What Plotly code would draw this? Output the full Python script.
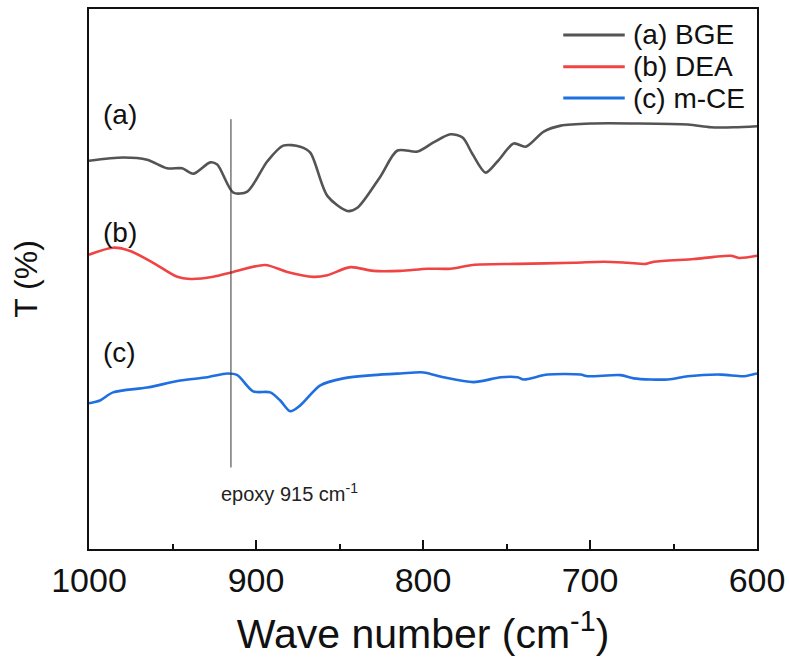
import plotly.graph_objects as go

# ---- data ----
wn_a = [1000, 979.6, 965.2, 953.2, 944.2, 937.6, 927.4, 923.2, 913.6, 905.2, 893.2, 883.7,
        873.5, 867.5, 857.3, 845.3, 839.3, 825.5, 815.3, 803.3, 793.7, 783.5, 776.3, 770.3,
        762.5, 755.3, 745.7, 738.5, 727.7, 717.5, 697.8, 673.8, 641.4, 627.6, 613.8, 600]
t_a = [71.9, 72.5, 72.1, 70.5, 70.5, 69.5, 71.6, 71.2, 66.0, 66.2, 71.8, 74.7,
       74.5, 73.4, 65.4, 62.6, 63.2, 69.0, 73.8, 73.6, 75.3, 76.8, 76.2, 73.1,
       69.7, 71.8, 75.1, 74.5, 77.3, 78.4, 78.8, 78.8, 78.6, 78.1, 78.1, 78.3]

wn_b = [1000, 985.6, 975.4, 961.6, 947.2, 939.4, 925.6, 913.6, 894.5, 881.3, 865.7, 857.3,
        843.5, 829.7, 813.5, 797.3, 783.5, 770.3, 743.3, 709.8, 691.8, 677.4, 666.6, 661.8,
        637.8, 625.8, 615.6, 610.8, 600]
t_b = [54.5, 55.8, 55.2, 53.0, 50.4, 50.0, 50.4, 51.3, 52.6, 51.3, 50.4, 50.7,
       52.2, 51.5, 51.5, 51.9, 51.9, 52.6, 52.8, 53.0, 53.2, 53.0, 52.8, 53.2,
       53.7, 54.1, 54.3, 53.9, 54.3]

wn_c = [1000, 993.4, 985.6, 965.2, 945.4, 929.2, 917.2, 911.2, 901.7, 891.5, 885.5, 879.5,
        873.5, 861.5, 847.7, 829.7, 813.5, 799.7, 787.7, 769.7, 753.5, 743.3, 739.7, 725.4,
        705.6, 701.4, 681.6, 673.8, 653.4, 641.4, 621.6, 607.8, 600]
t_c = [27.0, 27.5, 29.0, 29.9, 31.2, 31.8, 32.5, 32.2, 29.2, 29.0, 27.5, 25.5,
       26.6, 30.3, 31.6, 32.2, 32.5, 32.7, 31.8, 30.9, 31.8, 31.8, 31.4, 32.3,
       32.3, 32.0, 32.2, 31.6, 31.4, 32.0, 32.3, 32.0, 32.5]

names = ["(a) BGE", "(b) DEA", "(c) m-CE"]
colors = ["#545454", "#f04343", "#1f6fe0"]
x_ticks = [1000, 900, 800, 700, 600]
epoxy_wn = 915

FONT = "Liberation Sans, Arial, sans-serif"

fig = go.Figure()
for wn, t, nm, c in zip([wn_a, wn_b, wn_c], [t_a, t_b, t_c], names, colors):
    fig.add_trace(go.Scatter(x=wn, y=t, mode="lines", name=nm, showlegend=False,
                             line=dict(color=c, width=2.6, shape="spline", smoothing=0.8)))

# legend drawn as keys (line sample + text), placed in paper coordinates
leg_rows = [0.952, 0.893, 0.835]
for nm, c, yr in zip(names, colors, leg_rows):
    fig.add_shape(type="line", xref="paper", yref="paper", x0=0.710, x1=0.802, y0=yr, y1=yr,
                  line=dict(color=c, width=3))
    fig.add_annotation(xref="paper", yref="paper", x=0.811, y=yr, xanchor="left", yanchor="middle",
                       text=nm, showarrow=False, font=dict(family=FONT, size=28, color="#111"))

fig.add_shape(type="line", x0=epoxy_wn, x1=epoxy_wn, y0=15.1, y1=79.6,
              line=dict(color="#333333", width=1))

fig.add_annotation(x=epoxy_wn - 35, y=10.4, text="epoxy 915 cm<sup>-1</sup>", showarrow=False,
                   font=dict(family=FONT, size=20, color="#222"))
for lbl, yv in zip(["(a)", "(b)", "(c)"], [80.5, 58.7, 36.4]):
    fig.add_annotation(x=981.5, y=yv, text=lbl, showarrow=False,
                       font=dict(family=FONT, size=28, color="#111"))

fig.update_layout(
    width=790, height=668,
    margin=dict(l=89, r=33, t=9, b=119, autoexpand=False),
    paper_bgcolor="white", plot_bgcolor="white",
    font=dict(family=FONT, color="#111"),
    showlegend=False,
    xaxis=dict(range=[1000, 600], autorange=False, tickvals=x_ticks, automargin=False,
               ticks="inside", ticklen=9, tickwidth=1.5, tickcolor="#111",
               minor=dict(ticks="inside", ticklen=5, dtick=50, tickcolor="#111", tickwidth=1.5),
               showline=True, linecolor="#111", linewidth=1.8, mirror=True,
               showgrid=False, zeroline=False,
               tickfont=dict(family=FONT, size=34, color="#111"),
               title=dict(text="Wave number (cm<sup>-1</sup>)", font=dict(family=FONT, size=41, color="#111"),
                          standoff=22)),
    yaxis=dict(range=[0, 100], showticklabels=False, ticks="", automargin=False,
               showline=True, linecolor="#111", linewidth=1.8, mirror=True,
               showgrid=False, zeroline=False,
               title=dict(text="T (%)", font=dict(family=FONT, size=32, color="#111"), standoff=40)),
)

fig.write_html("out.html", config={"displayModeBar": False},
               post_script="document.body.style.margin='0';document.body.style.padding='0';")
